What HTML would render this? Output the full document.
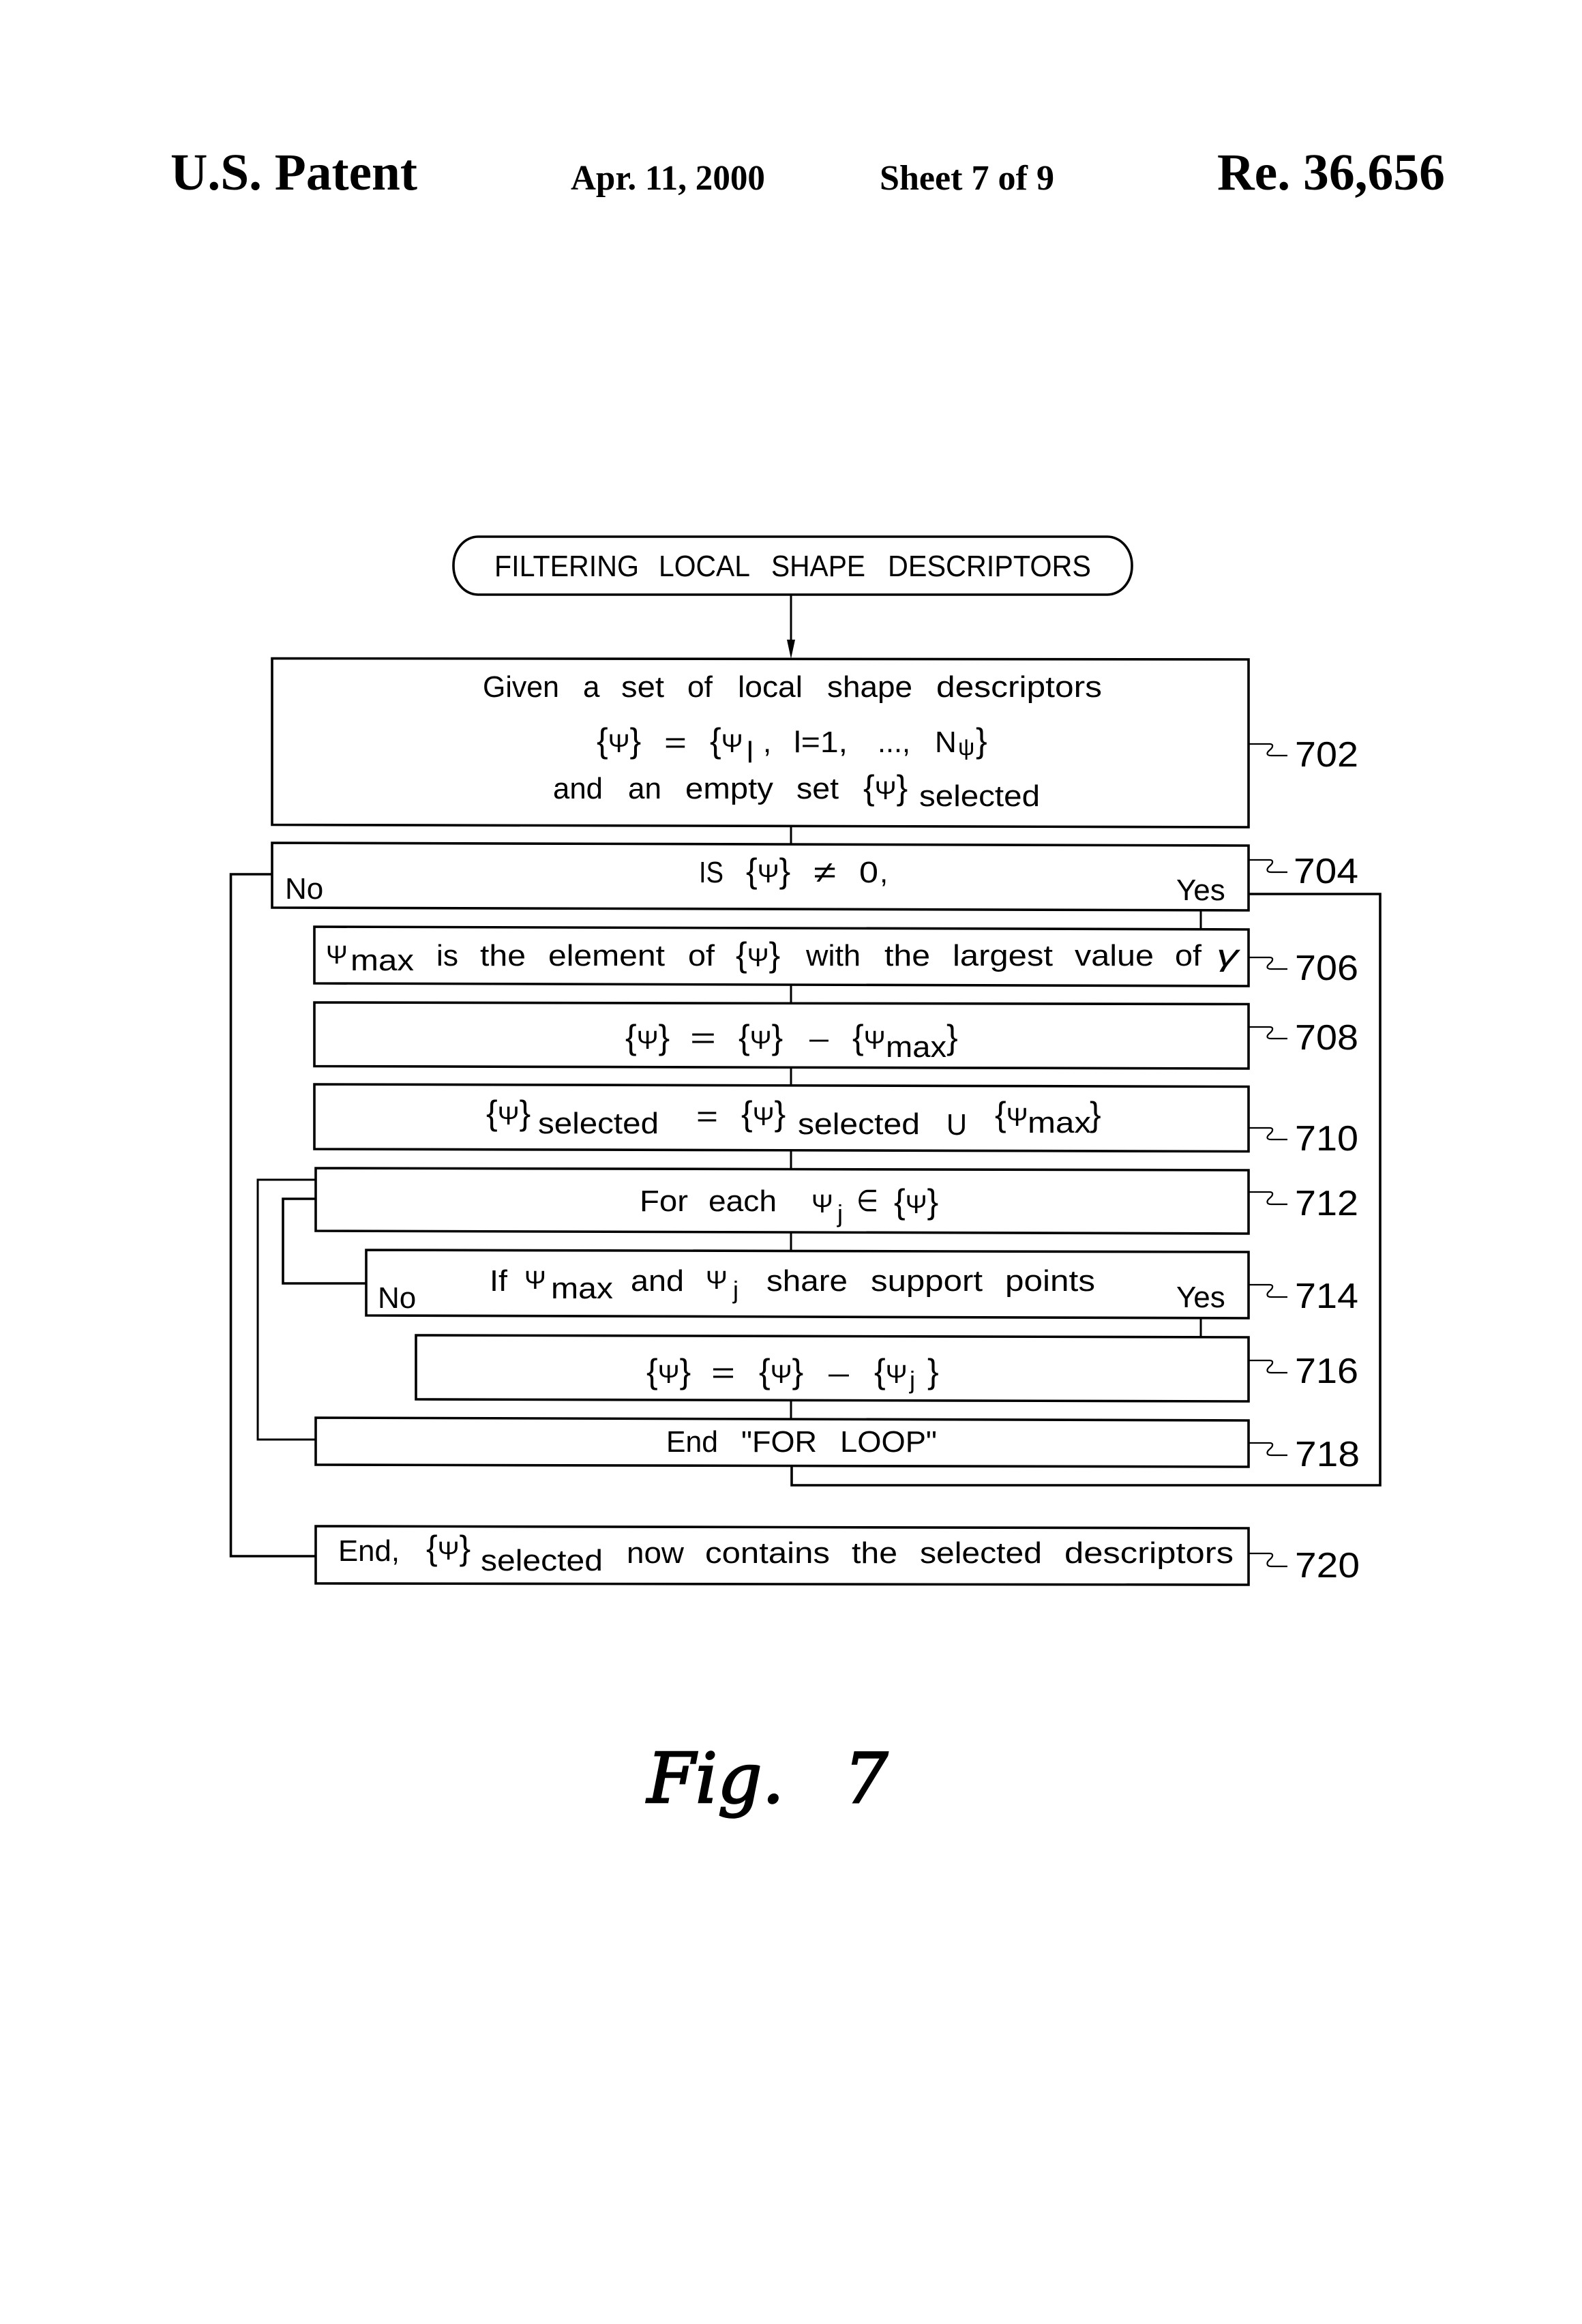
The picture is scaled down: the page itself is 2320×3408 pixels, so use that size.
<!DOCTYPE html>
<html><head><meta charset="utf-8"><style>
html,body{margin:0;padding:0;background:#fff}
svg{display:block}
text{font-family:"Liberation Sans",sans-serif;font-size:44px;fill:#000}
.h{font-family:"Liberation Serif",serif;font-weight:bold}
.b{font-size:50px}
.p{font-size:38px}
.n{font-size:52px}
.f{font-family:"DejaVu Serif","Liberation Serif",serif;font-style:italic;font-size:101px;stroke:#000;stroke-width:2.500}
.l{fill:none;stroke:#000;stroke-width:3}
.k{fill:#fff;stroke:#000;stroke-width:3.6}
.q{fill:none;stroke:#000;stroke-width:2.2}
</style></head><body>
<svg width="2320" height="3408" viewBox="0 0 2320 3408" xmlns="http://www.w3.org/2000/svg">
<rect width="2320" height="3408" fill="#fff"/>
<text class="h" x="250" y="278" style="font-size:76px" textLength="362" lengthAdjust="spacingAndGlyphs">U.S. Patent</text>
<text class="h" x="837" y="278" style="font-size:52px" textLength="285" lengthAdjust="spacingAndGlyphs">Apr. 11, 2000</text>
<text class="h" x="1290" y="278" style="font-size:52px" textLength="256" lengthAdjust="spacingAndGlyphs">Sheet 7 of 9</text>
<text class="h" x="1785" y="278" style="font-size:76px" textLength="334" lengthAdjust="spacingAndGlyphs">Re. 36,656</text>

<!-- connectors -->
<path class="l" d="M1160 872V950M1160 1212V1238M1761 1333V1361M1160 1444V1471M1160 1566V1592M1160 1687V1715M1160 1808V1834M1761 1931V1960M1160 2055V2081"/>
<path d="M1154 938L1166 938L1160 966Z" fill="#000"/>
<path class="l" d="M399 1282H338.500V2282H463" style="stroke-width:3.6"/>
<path class="l" d="M1831 1311H2024V2178H1161V2150" style="stroke-width:3.6"/>
<path class="l" d="M463 1730H378V2111H463"/>
<path class="l" d="M463 1758H415V1882H537" style="stroke-width:3.6"/>

<!-- boxes -->
<rect class="k" x="665" y="787" width="995" height="85" rx="36" ry="42"/>
<path class="k" d="M399 965.500L1831 967V1213L399 1209.500Z"/>
<path class="k" d="M399 1236L1831 1240V1335L399 1331Z"/>
<path class="k" d="M461 1359L1831 1363V1446L461 1442Z"/>
<path class="k" d="M461 1470L1831 1472.500V1567L461 1563.500Z"/>
<path class="k" d="M461 1590L1831 1593.500V1688.500L461 1685Z"/>
<path class="k" d="M463 1713L1831 1716V1809L463 1805Z"/>
<path class="k" d="M537 1833L1831 1836V1933L537 1929Z"/>
<path class="k" d="M610 1958L1831 1961V2055L610 2052Z"/>
<path class="k" d="M463 2079L1831 2083V2151L463 2148Z"/>
<path class="k" d="M463 2238L1831 2241V2324L463 2322Z"/>

<!-- title -->
<text x="725" y="845" textLength="212" lengthAdjust="spacingAndGlyphs">FILTERING</text>
<text x="966" y="845" textLength="134" lengthAdjust="spacingAndGlyphs">LOCAL</text>
<text x="1131" y="845" textLength="138" lengthAdjust="spacingAndGlyphs">SHAPE</text>
<text x="1302" y="845" textLength="298" lengthAdjust="spacingAndGlyphs">DESCRIPTORS</text>

<!-- 702 -->
<text x="708" y="1022" textLength="112" lengthAdjust="spacingAndGlyphs">Given</text>
<text x="855" y="1022">a</text>
<text x="911" y="1022" textLength="63" lengthAdjust="spacingAndGlyphs">set</text>
<text x="1008" y="1022" textLength="37" lengthAdjust="spacingAndGlyphs">of</text>
<text x="1082" y="1022" textLength="95" lengthAdjust="spacingAndGlyphs">local</text>
<text x="1213" y="1022" textLength="125" lengthAdjust="spacingAndGlyphs">shape</text>
<text x="1373" y="1022" textLength="243" lengthAdjust="spacingAndGlyphs">descriptors</text>
<text class="b" x="875" y="1103">{<tspan class="p">Ψ</tspan>}</text>
<text x="974" y="1104" textLength="33" lengthAdjust="spacingAndGlyphs">=</text>
<text class="b" x="1041" y="1103">{<tspan class="p">Ψ</tspan></text>
<text x="1095" y="1118">l</text>
<text x="1119" y="1103">,</text>
<text x="1164" y="1103" textLength="79" lengthAdjust="spacingAndGlyphs">l=1,</text>
<text x="1287" y="1103" textLength="48" lengthAdjust="spacingAndGlyphs">...,</text>
<text x="1371" y="1103">N</text>
<text x="1405" y="1107" style="font-size:34px">ψ</text>
<text class="b" x="1431" y="1103">}</text>
<text x="811" y="1171" textLength="73" lengthAdjust="spacingAndGlyphs">and</text>
<text x="921" y="1171" textLength="49" lengthAdjust="spacingAndGlyphs">an</text>
<text x="1005" y="1171" textLength="129" lengthAdjust="spacingAndGlyphs">empty</text>
<text x="1168" y="1171" textLength="62" lengthAdjust="spacingAndGlyphs">set</text>
<text class="b" x="1266" y="1172">{<tspan class="p">Ψ</tspan>}</text>
<text x="1348" y="1182" textLength="177" lengthAdjust="spacingAndGlyphs">selected</text>

<!-- 704 -->
<text x="1025" y="1294" textLength="36" lengthAdjust="spacingAndGlyphs">IS</text>
<text class="b" x="1094" y="1294">{<tspan class="p">Ψ</tspan>}</text>
<text x="1193" y="1294" textLength="33" lengthAdjust="spacingAndGlyphs">≠</text>
<text x="1260" y="1294" textLength="28" lengthAdjust="spacingAndGlyphs">0</text>
<text x="1290" y="1294">,</text>
<text x="418" y="1318">No</text>
<text x="1725" y="1320">Yes</text>

<!-- 706 -->
<text class="p" x="478" y="1413">Ψ</text>
<text x="514" y="1423" textLength="93" lengthAdjust="spacingAndGlyphs">max</text>
<text x="640" y="1416" textLength="32" lengthAdjust="spacingAndGlyphs">is</text>
<text x="704" y="1416" textLength="67" lengthAdjust="spacingAndGlyphs">the</text>
<text x="804" y="1416" textLength="171" lengthAdjust="spacingAndGlyphs">element</text>
<text x="1009" y="1416" textLength="39" lengthAdjust="spacingAndGlyphs">of</text>
<text class="b" x="1079" y="1417">{<tspan class="p">Ψ</tspan>}</text>
<text x="1182" y="1416" textLength="80" lengthAdjust="spacingAndGlyphs">with</text>
<text x="1297" y="1416" textLength="67" lengthAdjust="spacingAndGlyphs">the</text>
<text x="1397" y="1416" textLength="147" lengthAdjust="spacingAndGlyphs">largest</text>
<text x="1576" y="1416" textLength="116" lengthAdjust="spacingAndGlyphs">value</text>
<text x="1723" y="1416" textLength="39" lengthAdjust="spacingAndGlyphs">of</text>
<text x="1784" y="1416" textLength="32" lengthAdjust="spacingAndGlyphs" style="font-style:italic">γ</text>

<!-- 708 -->
<text class="b" x="917" y="1538">{<tspan class="p">Ψ</tspan>}</text>
<text x="1012" y="1537" textLength="38" lengthAdjust="spacingAndGlyphs">=</text>
<text class="b" x="1083" y="1538">{<tspan class="p">Ψ</tspan>}</text>
<text x="1187" y="1537" textLength="28" lengthAdjust="spacingAndGlyphs">–</text>
<text class="b" x="1250" y="1538">{<tspan class="p">Ψ</tspan></text>
<text x="1299" y="1550" textLength="89" lengthAdjust="spacingAndGlyphs">max</text>
<text class="b" x="1388" y="1538">}</text>

<!-- 710 -->
<text class="b" x="713" y="1649">{<tspan class="p">Ψ</tspan>}</text>
<text x="789" y="1662" textLength="177" lengthAdjust="spacingAndGlyphs">selected</text>
<text x="1021" y="1652" textLength="32" lengthAdjust="spacingAndGlyphs">=</text>
<text class="b" x="1087" y="1650">{<tspan class="p">Ψ</tspan>}</text>
<text x="1170" y="1663" textLength="179" lengthAdjust="spacingAndGlyphs">selected</text>
<text x="1388" y="1664" textLength="30" lengthAdjust="spacingAndGlyphs">U</text>
<text class="b" x="1459" y="1651">{<tspan class="p">Ψ</tspan></text>
<text x="1507" y="1661" textLength="93" lengthAdjust="spacingAndGlyphs">max</text>
<text class="b" x="1598" y="1651">}</text>

<!-- 712 -->
<text x="938" y="1776" textLength="71" lengthAdjust="spacingAndGlyphs">For</text>
<text x="1039" y="1776" textLength="100" lengthAdjust="spacingAndGlyphs">each</text>
<text class="p" x="1190" y="1778">Ψ</text>
<text x="1228" y="1792" style="font-size:36px">j</text>
<text x="1256" y="1776" textLength="32" lengthAdjust="spacingAndGlyphs">∈</text>
<text class="b" x="1311" y="1779">{<tspan class="p">Ψ</tspan>}</text>

<!-- 714 -->
<text x="718" y="1893" textLength="26" lengthAdjust="spacingAndGlyphs">If</text>
<text class="p" x="769" y="1890">Ψ</text>
<text x="808" y="1904" textLength="91" lengthAdjust="spacingAndGlyphs">max</text>
<text x="925" y="1893" textLength="78" lengthAdjust="spacingAndGlyphs">and</text>
<text class="p" x="1035" y="1890">Ψ</text>
<text x="1075" y="1904" style="font-size:36px">j</text>
<text x="1124" y="1893" textLength="119" lengthAdjust="spacingAndGlyphs">share</text>
<text x="1277" y="1893" textLength="164" lengthAdjust="spacingAndGlyphs">support</text>
<text x="1474" y="1893" textLength="132" lengthAdjust="spacingAndGlyphs">points</text>
<text x="554" y="1918">No</text>
<text x="1725" y="1917">Yes</text>

<!-- 716 -->
<text class="b" x="948" y="2028">{<tspan class="p">Ψ</tspan>}</text>
<text x="1043" y="2028" textLength="35" lengthAdjust="spacingAndGlyphs">=</text>
<text class="b" x="1113" y="2028">{<tspan class="p">Ψ</tspan>}</text>
<text x="1215" y="2028" textLength="30" lengthAdjust="spacingAndGlyphs">–</text>
<text class="b" x="1282" y="2028">{<tspan class="p">Ψ</tspan></text>
<text x="1334" y="2036" style="font-size:36px">j</text>
<text class="b" x="1360" y="2028">}</text>

<!-- 718 -->
<text x="977" y="2129" textLength="76" lengthAdjust="spacingAndGlyphs">End</text>
<text x="1087" y="2129" textLength="111" lengthAdjust="spacingAndGlyphs">"FOR</text>
<text x="1232" y="2129" textLength="142" lengthAdjust="spacingAndGlyphs">LOOP"</text>

<!-- 720 -->
<text x="496" y="2289" textLength="90" lengthAdjust="spacingAndGlyphs">End,</text>
<text class="b" x="625" y="2287">{<tspan class="p">Ψ</tspan>}</text>
<text x="705" y="2303" textLength="179" lengthAdjust="spacingAndGlyphs">selected</text>
<text x="919" y="2292" textLength="84" lengthAdjust="spacingAndGlyphs">now</text>
<text x="1034" y="2292" textLength="183" lengthAdjust="spacingAndGlyphs">contains</text>
<text x="1249" y="2292" textLength="67" lengthAdjust="spacingAndGlyphs">the</text>
<text x="1349" y="2292" textLength="179" lengthAdjust="spacingAndGlyphs">selected</text>
<text x="1561" y="2292" textLength="248" lengthAdjust="spacingAndGlyphs">descriptors</text>

<!-- leaders -->
<path class="q" d="M1831 1091H1862c6 0 5 5 0 9c-5 4-5 8 2 8H1888"/>
<path class="q" d="M1831 1261H1862c6 0 5 5 0 9c-5 4-5 9 2 9H1888"/>
<path class="q" d="M1831 1404H1862c6 0 5 5 0 9c-5 4-5 8 2 8H1888"/>
<path class="q" d="M1831 1506H1862c6 0 5 5 0 9c-5 4-5 8 2 8H1888"/>
<path class="q" d="M1831 1654H1862c6 0 5 5 0 9c-5 4-5 8 2 8H1888"/>
<path class="q" d="M1831 1748H1862c6 0 5 5 0 9c-5 4-5 9 2 9H1888"/>
<path class="q" d="M1831 1884H1862c6 0 5 5 0 9c-5 4-5 9 2 9H1888"/>
<path class="q" d="M1831 1995H1862c6 0 5 5 0 9c-5 4-5 9 2 9H1888"/>
<path class="q" d="M1831 2116H1862c6 0 5 5 0 9c-5 4-5 9 2 9H1888"/>
<path class="q" d="M1831 2278H1862c6 0 5 5 0 9c-5 4-5 10 2 10H1888"/>

<text class="n" x="1899" y="1124" textLength="93" lengthAdjust="spacingAndGlyphs">702</text>
<text class="n" x="1897" y="1295" textLength="95" lengthAdjust="spacingAndGlyphs">704</text>
<text class="n" x="1899" y="1437" textLength="93" lengthAdjust="spacingAndGlyphs">706</text>
<text class="n" x="1899" y="1539" textLength="93" lengthAdjust="spacingAndGlyphs">708</text>
<text class="n" x="1899" y="1687" textLength="93" lengthAdjust="spacingAndGlyphs">710</text>
<text class="n" x="1899" y="1782" textLength="93" lengthAdjust="spacingAndGlyphs">712</text>
<text class="n" x="1899" y="1918" textLength="93" lengthAdjust="spacingAndGlyphs">714</text>
<text class="n" x="1899" y="2028" textLength="93" lengthAdjust="spacingAndGlyphs">716</text>
<text class="n" x="1899" y="2150" textLength="95" lengthAdjust="spacingAndGlyphs">718</text>
<text class="n" x="1899" y="2313" textLength="95" lengthAdjust="spacingAndGlyphs">720</text>

<text class="f" x="949" y="2643" textLength="201" lengthAdjust="spacingAndGlyphs">Fig.</text>
<text class="f" x="1238" y="2643">7</text>
</svg>
</body></html>
